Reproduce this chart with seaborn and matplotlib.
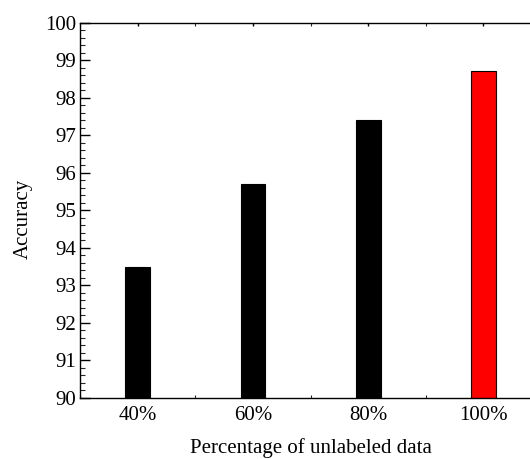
import matplotlib
matplotlib.use("Agg")
import matplotlib.pyplot as plt
from matplotlib.ticker import MultipleLocator
import seaborn as sns
import pandas as pd

categories = ["40%", "60%", "80%", "100%"]
accuracy = [93.5, 95.7, 97.4, 98.73]
bar_colors = ["black", "black", "black", "red"]
y_ticks = [90, 91, 92, 93, 94, 95, 96, 97, 98, 99, 100]

sns.set_theme(style="white")
plt.rcParams["font.family"] = ["Liberation Serif", "DejaVu Serif"]
plt.rcParams["mathtext.fontset"] = "stix"

df = pd.DataFrame({"pct": categories, "acc": accuracy})

fig = plt.figure(figsize=(5.30, 4.59), dpi=100)
ax = fig.add_axes([0.151, 0.133, 0.870, 0.817])

sns.barplot(data=df, x="pct", y="acc", hue="pct", palette=bar_colors,
            legend=False, width=0.215, edgecolor="black", linewidth=0.8,
            saturation=1, ax=ax)

ax.set_xlim(-0.5, 3.5)
ax.set_ylim(90, 100)
ax.set_yticks(y_ticks)
ax.set_yticklabels([str(t) for t in y_ticks])
ax.yaxis.set_minor_locator(MultipleLocator(0.2))
ax.xaxis.set_minor_locator(MultipleLocator(0.5))

for side in ["left", "bottom", "top", "right"]:
    ax.spines[side].set_color("black")
    ax.spines[side].set_linewidth(1.0)

ax.tick_params(axis="y", which="major", direction="in", length=7, width=1,
               labelsize=15, colors="black", left=True, right=False, pad=3)
ax.tick_params(axis="y", which="minor", direction="in", length=3.5, width=0.8,
               left=True, right=False)
ax.tick_params(axis="x", which="major", direction="in", length=7, width=1,
               labelsize=15, colors="black", bottom=True, top=True, pad=6)
ax.tick_params(axis="x", which="minor", direction="in", length=2, width=0.8,
               bottom=True, top=True)
for t in ax.xaxis.get_major_ticks():
    t.tick2line.set_markersize(2)

ax.set_xlabel("Percentage of unlabeled data", fontsize=15, color="black")
ax.set_ylabel("Accuracy", fontsize=15, color="black")
ax.xaxis.set_label_coords(0.5, -0.133, transform=ax.transAxes)
ax.yaxis.set_label_coords(-0.122, 0.477, transform=ax.transAxes)
ax.xaxis.label.set_va("center")
ax.yaxis.label.set_va("center")

fig.savefig("out.png", dpi=100, facecolor="white")
